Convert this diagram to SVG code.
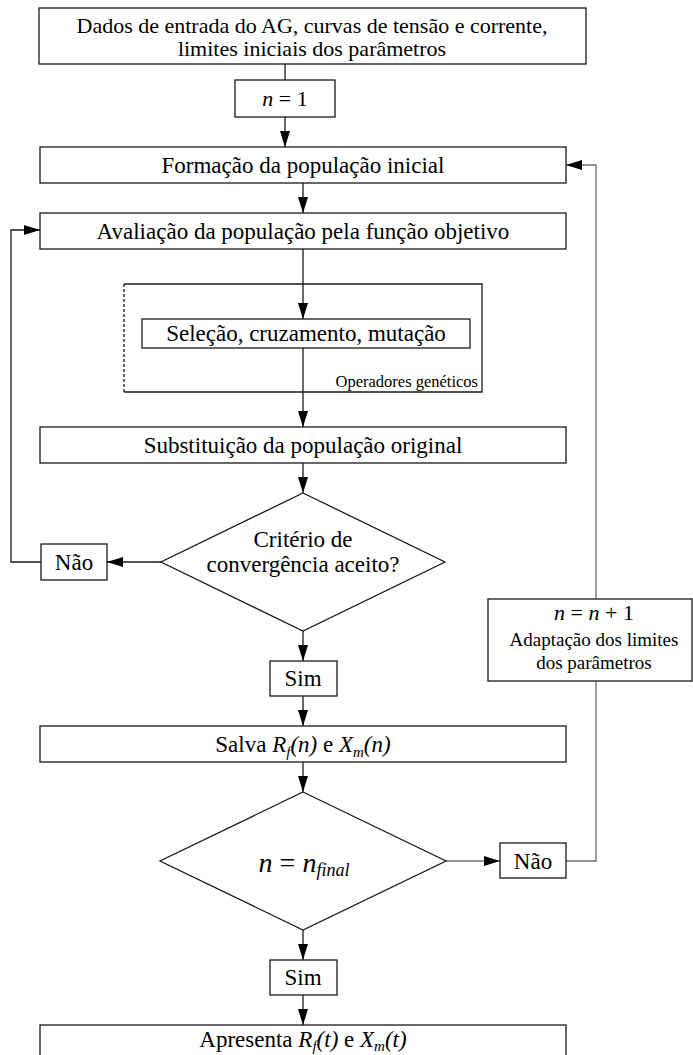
<svg xmlns="http://www.w3.org/2000/svg" width="693" height="1055" viewBox="0 0 693 1055">
  <style>
    .box { fill: #ffffff; stroke: #1a1a1a; stroke-width: 1.3; }
    .t { font-family: "Liberation Serif", "Times New Roman", serif; font-size: 23px; fill: #000; text-anchor: middle; }
    .head { font-size: 22px; }
    .small { font-size: 19px; }
    .tiny { font-size: 16.5px; text-anchor: end; }
    .big { font-size: 28px; }
    .it { font-style: italic; }
    .ln { fill: none; stroke: #1a1a1a; stroke-width: 1.3; }
    .gray { stroke: #6e6e6e; }
    .arr { marker-end: url(#head); }
  </style>
  <defs>
    <marker id="head" markerUnits="userSpaceOnUse" markerWidth="16" markerHeight="10" refX="16" refY="5" orient="auto">
      <path d="M0,0 L16,5 L0,10 z" fill="#000"/>
    </marker>
  </defs>

  <rect width="693" height="1055" fill="#ffffff"/>

  <!-- connectors -->
  <g id="connectors">
    <line class="ln" x1="285" y1="64" x2="285" y2="80"/>
    <line class="ln arr" x1="285" y1="117" x2="285" y2="147"/>
    <line class="ln arr" x1="303" y1="183" x2="303" y2="213"/>
    <line class="ln arr" x1="303" y1="249" x2="303" y2="319"/>
    <line class="ln arr" x1="303" y1="348" x2="303" y2="427"/>
    <line class="ln arr" x1="303" y1="463" x2="303" y2="493"/>
    <line class="ln arr" x1="161" y1="562" x2="107" y2="562"/>
    <polyline class="ln arr" points="41,562 11,562 11,230 40,230"/>
    <line class="ln arr" x1="303" y1="631" x2="303" y2="661"/>
    <line class="ln arr" x1="303" y1="696" x2="303" y2="726"/>
    <line class="ln arr" x1="303" y1="762" x2="303" y2="792"/>
    <line class="ln gray arr" x1="446" y1="861" x2="500" y2="861"/>
    <polyline class="ln gray" points="566,861 596,861 596,681"/>
    <polyline class="ln gray arr" points="596,599 596,165 566,165"/>
    <line class="ln arr" x1="303" y1="930" x2="303" y2="960"/>
    <line class="ln arr" x1="303" y1="995" x2="303" y2="1025"/>
  </g>

  <!-- genetic operators frame -->
  <g id="operadores">
    <polyline class="ln" points="124,284 482,284 482,392 124,392"/>
    <line class="ln" x1="124" y1="284" x2="124" y2="392" stroke-dasharray="3,2"/>
    <text class="t tiny" x="478" y="387">Operadores genéticos</text>
  </g>

  <g id="entrada">
    <rect class="box" x="39" y="8" width="547" height="56"/>
    <text class="t head" x="312" y="33">Dados de entrada do AG, curvas de tensão e corrente,</text>
    <text class="t head" x="312" y="56">limites iniciais dos parâmetros</text>
  </g>

  <g id="n-inicial">
    <rect class="box" x="235" y="80" width="100" height="37"/>
    <text class="t head" x="285" y="106"><tspan class="it">n</tspan> = 1</text>
  </g>

  <g id="formacao">
    <rect class="box" x="40" y="147" width="526" height="36"/>
    <text class="t" x="303" y="173">Formação da população inicial</text>
  </g>

  <g id="avaliacao">
    <rect class="box" x="40" y="213" width="526" height="36"/>
    <text class="t" x="303" y="239">Avaliação da população pela função objetivo</text>
  </g>

  <g id="selecao">
    <rect class="box" x="142" y="319" width="328" height="29"/>
    <text class="t" x="306" y="341">Seleção, cruzamento, mutação</text>
  </g>

  <g id="substituicao">
    <rect class="box" x="40" y="427" width="526" height="36"/>
    <text class="t" x="303" y="453">Substituição da população original</text>
  </g>

  <g id="convergencia">
    <polygon class="box" points="303,493 445,562 303,631 161,562"/>
    <text class="t" x="303" y="547">Critério de</text>
    <text class="t" x="303" y="572">convergência aceito?</text>
  </g>

  <g id="nao-1">
    <rect class="box" x="41" y="544" width="66" height="36"/>
    <text class="t" x="74" y="570">Não</text>
  </g>

  <g id="sim-1">
    <rect class="box" x="270" y="661" width="67" height="35"/>
    <text class="t" x="303" y="686">Sim</text>
  </g>

  <g id="salva">
    <rect class="box" x="40" y="726" width="526" height="36"/>
    <text class="t" x="303" y="752">Salva <tspan class="it">R</tspan><tspan class="it" font-size="15" dy="5">f</tspan><tspan class="it" dy="-5">(n)</tspan> e <tspan class="it">X</tspan><tspan class="it" font-size="15" dy="5">m</tspan><tspan class="it" dy="-5">(n)</tspan></text>
  </g>

  <g id="n-final">
    <polygon class="box" points="303,792 446,861 303,930 160,861"/>
    <text class="t big it" x="304" y="872">n <tspan font-style="normal">=</tspan> n<tspan font-size="18" dy="4">final</tspan></text>
  </g>

  <g id="nao-2">
    <rect class="box" x="500" y="843" width="66" height="35"/>
    <text class="t" x="533" y="869">Não</text>
  </g>

  <g id="adaptacao">
    <rect class="box" x="488" y="599" width="204" height="82"/>
    <text class="t head" x="594" y="620"><tspan class="it">n</tspan> = <tspan class="it">n</tspan> + 1</text>
    <text class="t small" x="594" y="646">Adaptação dos limites</text>
    <text class="t small" x="594" y="669">dos parâmetros</text>
  </g>

  <g id="sim-2">
    <rect class="box" x="270" y="960" width="67" height="35"/>
    <text class="t" x="303" y="985">Sim</text>
  </g>

  <g id="apresenta">
    <rect class="box" x="40" y="1025" width="526" height="40"/>
    <text class="t" x="303" y="1047">Apresenta <tspan class="it">R</tspan><tspan class="it" font-size="15" dy="4">f</tspan><tspan class="it" dy="-4">(t)</tspan> e <tspan class="it">X</tspan><tspan class="it" font-size="15" dy="4">m</tspan><tspan class="it" dy="-4">(t)</tspan></text>
  </g>
</svg>
